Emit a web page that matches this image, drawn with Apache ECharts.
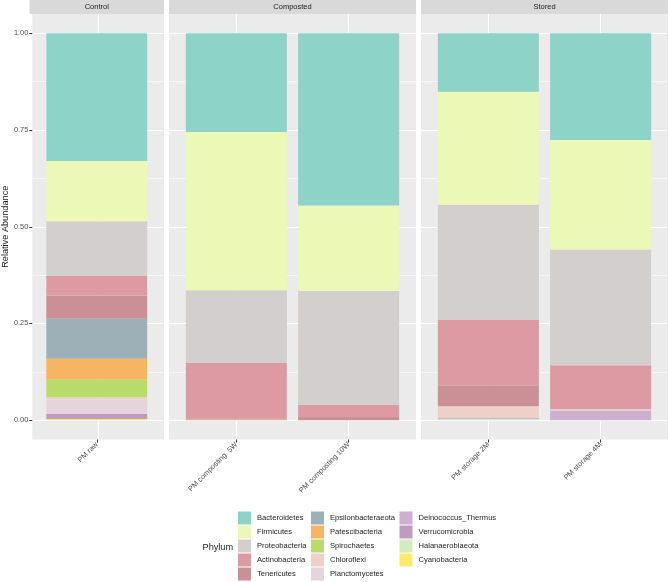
<!DOCTYPE html>
<html>
<head>
<meta charset="utf-8">
<script src="https://cdn.jsdelivr.net/npm/echarts@6/dist/echarts.min.js"></script>
<style>
  html, body { margin: 0; padding: 0; background: #fff; }
  #chart { width: 669px; height: 582px; }
</style>
</head>
<body>
<div id="chart"></div>
<script>
// data
var facets = ['Control', 'Composted', 'Stored'];
var samples = ['PM raw', 'PM composting  5W', 'PM composting 10W', 'PM storage 2M', 'PM storage 4M'];
var sampleFacet = [0, 1, 1, 2, 2];
var phyla = ['Bacteroidetes', 'Firmicutes', 'Proteobacteria', 'Actinobacteria', 'Tenericutes',
    'Epsilonbacteraeota', 'Patescibacteria', 'Spirochaetes', 'Chloroflexi', 'Planctomycetes',
    'Deinococcus_Thermus', 'Verrucomicrobia', 'Halanaerobiaeota', 'Cyanobacteria'];
var phylaColors = ['#8ED3C7', '#ECF8B5', '#D3CFCF', '#DE9AA2', '#CB9096',
    '#9DB0B7', '#F7B563', '#B8DB6A', '#EDD1C9', '#E6D4DC',
    '#CDAFD1', '#C19BBF', '#D3EBC0', '#FCE96D'];
// one array per sample, same order as phyla
var pmRaw = [0.330, 0.156, 0.141, 0.051, 0.060, 0.103, 0.053, 0.047, 0.005, 0.038, 0, 0.013, 0, 0.003];
var pmComp5W = [0.255, 0.409, 0.188, 0.143, 0.003, 0, 0.002, 0, 0, 0, 0, 0, 0, 0];
var pmComp10W = [0.445, 0.221, 0.295, 0.031, 0.008, 0, 0, 0, 0, 0, 0, 0, 0, 0];
var pmStor2M = [0.151, 0.292, 0.298, 0.1685, 0.0545, 0, 0, 0, 0.030, 0, 0.003, 0, 0.003, 0];
var pmStor4M = [0.276, 0.283, 0.299, 0.114, 0, 0, 0, 0, 0.003, 0, 0.025, 0, 0, 0];
var sampleValues = [pmRaw, pmComp5W, pmComp10W, pmStor2M, pmStor4M];
var yTicks = [0, 0.25, 0.5, 0.75, 1];
var yMinorTicks = [0.125, 0.375, 0.625, 0.875];
var legendCols = [
    ['Bacteroidetes', 'Firmicutes', 'Proteobacteria', 'Actinobacteria', 'Tenericutes'],
    ['Epsilonbacteraeota', 'Patescibacteria', 'Spirochaetes', 'Chloroflexi', 'Planctomycetes'],
    ['Deinococcus_Thermus', 'Verrucomicrobia', 'Halanaerobiaeota', 'Cyanobacteria']
];

// layout
var FONT = 'Liberation Sans, Arial, sans-serif';
var panels = [{ left: 29.5, width: 134.5 }, { left: 169, width: 247 }, { left: 421, width: 247 }];
var panelTop = 14, panelHeight = 425.5, stripHeight = 14;
var yMin = -0.05, yMax = 1.05;
var legendLefts = [238, 311, 399.5];

var chart = echarts.init(document.getElementById('chart'), null, { renderer: 'canvas' });

var grids = [], xAxes = [], yAxes = [], series = [], graphics = [], legends = [];
var minorAxes = [], frontY = [];

facets.forEach(function (facet, f) {
    var p = panels[f];
    var names = samples.filter(function (s, i) { return sampleFacet[i] === f; });
    var n = names.length;
    var unit = p.width / (n + 0.2);
    var idx = names.map(function (s, i) { return i; });

    // background panel grid
    grids[f] = {
        left: p.left, top: panelTop, width: p.width, height: panelHeight,
        show: true, backgroundColor: '#EBEBEB', borderWidth: 0, containLabel: false
    };
    // front grid for the bars, inset so band width equals one unit
    grids[3 + f] = {
        left: p.left + 0.1 * unit, top: panelTop, width: n * unit, height: panelHeight,
        show: false, containLabel: false
    };

    xAxes[f] = {
        type: 'value', gridIndex: f, min: -0.6, max: n - 0.4, position: 'bottom',
        axisLine: { show: false, onZero: false }, axisLabel: { show: false },
        axisTick: { show: false, customValues: idx },
        splitLine: { show: true, lineStyle: { color: '#FFFFFF', width: 1.1 } }
    };
    xAxes[3 + f] = {
        type: 'category', gridIndex: 3 + f, data: names, position: 'bottom',
        axisLine: { show: false, onZero: false },
        axisTick: { show: true, alignWithLabel: true, length: 3, lineStyle: { color: '#333333', width: 1 } },
        axisLabel: { rotate: 45, margin: 4, color: '#4D4D4D', fontSize: 7.4, fontFamily: FONT, interval: 0 },
        splitLine: { show: false }
    };

    yAxes[f] = {
        type: 'value', gridIndex: f, min: yMin, max: yMax, position: 'left',
        axisLine: { show: false, onZero: false },
        axisTick: { show: f === 0, length: 3, customValues: yTicks, lineStyle: { color: '#333333' } },
        axisLabel: {
            show: f === 0, margin: 4, color: '#4D4D4D', fontSize: 7.4, fontFamily: FONT,
            customValues: yTicks,
            formatter: function (v) { return v.toFixed(2); }
        },
        splitLine: { show: true, lineStyle: { color: '#FFFFFF', width: 1.1 } },
        name: f === 0 ? 'Relative Abundance' : '',
        nameLocation: 'middle', nameGap: 19,
        nameTextStyle: { color: '#1A1A1A', fontSize: 9.2, fontFamily: FONT }
    };
    minorAxes[f] = {
        type: 'value', gridIndex: f, min: yMin, max: yMax, position: 'right',
        axisLine: { show: false, onZero: false }, axisLabel: { show: false },
        axisTick: { show: false, customValues: yMinorTicks },
        splitLine: { show: true, lineStyle: { color: '#FFFFFF', width: 0.55 } }
    };
    frontY[f] = {
        type: 'value', gridIndex: 3 + f, min: yMin, max: yMax, show: false,
        axisLine: { onZero: false }
    };

    // strip
    graphics.push({
        type: 'rect', left: p.left, top: 0, silent: true,
        shape: { width: p.width, height: stripHeight },
        style: { fill: '#D9D9D9' }
    });
    graphics.push({
        type: 'text', silent: true,
        x: p.left + p.width / 2, y: stripHeight / 2,
        style: {
            text: facet, fill: '#1A1A1A', font: '7.5px ' + FONT,
            textAlign: 'center', textVerticalAlign: 'middle'
        }
    });
});

// bars: stacked bottom-up, so walk phyla from the last one
facets.forEach(function (facet, f) {
    var members = [];
    samples.forEach(function (s, i) { if (sampleFacet[i] === f) members.push(i); });
    for (var k = phyla.length - 1; k >= 0; k--) {
        series.push({
            type: 'bar', name: phyla[k],
            xAxisIndex: 3 + f, yAxisIndex: 6 + f,
            stack: 'facet' + f, barWidth: '90%',
            itemStyle: { color: phylaColors[k] },
            emphasis: { disabled: true },
            data: members.map(function (i) { return sampleValues[i][k]; })
        });
    }
});

legendCols.forEach(function (col, c) {
    legends.push({
        data: col, orient: 'vertical', left: legendLefts[c], top: 511.5,
        padding: 0, itemGap: 1, itemWidth: 13, itemHeight: 13, icon: 'rect',
        selectedMode: false,
        textStyle: { color: '#1A1A1A', fontSize: 7.6, fontFamily: FONT, padding: [0, 0, 0, 1] }
    });
});

graphics.push({
    type: 'text', silent: true, x: 202.5, y: 547.5,
    style: { text: 'Phylum', fill: '#1A1A1A', font: '9.2px ' + FONT, textAlign: 'left', textVerticalAlign: 'middle' }
});

var option = {
    animation: false,
    backgroundColor: '#FFFFFF',
    grid: grids,
    xAxis: xAxes,
    yAxis: yAxes.concat(minorAxes).concat(frontY),
    legend: legends,
    graphic: graphics,
    series: series
};

chart.setOption(option);
</script>
</body>
</html>
